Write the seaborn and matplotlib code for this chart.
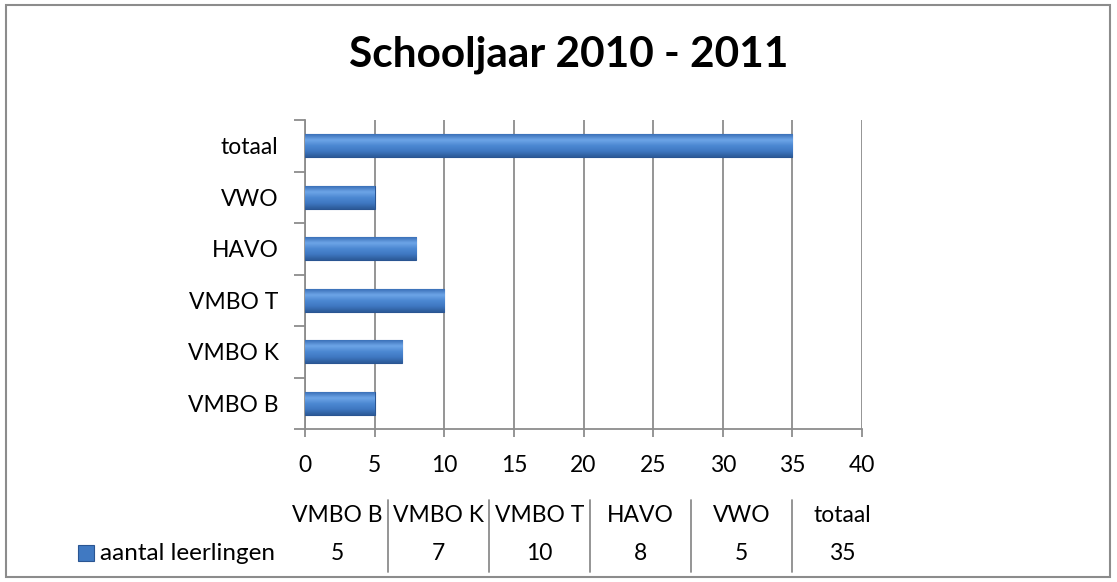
import numpy as np
import pandas as pd
import seaborn as sns
import matplotlib.pyplot as plt
from matplotlib.patches import Rectangle
from matplotlib.lines import Line2D
from matplotlib.colors import LinearSegmentedColormap

categories = ["VMBO B", "VMBO K", "VMBO T", "HAVO", "VWO", "totaal"]
values = [5, 7, 10, 8, 5, 35]
series_name = "aantal leerlingen"
title = "Schooljaar 2010 - 2011"

df = pd.DataFrame({"cat": categories, "n": values})

sns.set_style("white")
plt.rcParams["font.family"] = ["Lato", "DejaVu Sans"]
plt.rcParams["text.color"] = "black"
plt.rcParams["xtick.color"] = "black"
plt.rcParams["ytick.color"] = "black"

W, H = 1117, 582
fig = plt.figure(figsize=(W / 100, H / 100), dpi=100)
ax = fig.add_axes([305 / W, 1 - 429 / H, 557 / W, 309 / H])

grid_c = "#8c8c8c"
fs = 16.5
ax = sns.barplot(data=df, x="n", y="cat", order=categories[::-1], orient="h",
                 color="#4079C2", width=0.44, edgecolor="#2A5592", linewidth=0.8,
                 saturation=1, ax=ax, zorder=3)

# bevel-like shading on each bar
cmap = LinearSegmentedColormap.from_list("bev", ["#3A70B8", "#6EA6E8", "#4C88D2", "#3F78C2", "#2C5A98"])
grad = np.linspace(0, 1, 64).reshape(-1, 1)
for p in ax.patches:
    x0, y0 = p.get_x(), p.get_y()
    w, h = p.get_width(), p.get_height()
    im = ax.imshow(grad, cmap=cmap, aspect="auto", extent=(x0, x0 + w, y0 + h, y0),
                   zorder=3.5, interpolation="bicubic")
    im.set_clip_path(p)

ax.set_xlim(0, 40)
ax.set_ylim(5.5, -0.5)
ax.set_xticks(range(0, 41, 5))
ax.set_xlabel("")
ax.set_ylabel("")
ax.grid(axis="x", color=grid_c, linewidth=1.3, zorder=0)
ax.set_axisbelow(True)
for s in ["top", "right"]:
    ax.spines[s].set_visible(False)
for s in ["left", "bottom"]:
    ax.spines[s].set_color(grid_c)
    ax.spines[s].set_linewidth(1.3)

ax.set_yticks(np.arange(-0.5, 6, 1), minor=True)
ax.tick_params(axis="y", which="major", length=0, pad=19, labelsize=fs)
ax.tick_params(axis="y", which="minor", length=8, width=1.3, color=grid_c, direction="out", left=True)
ax.tick_params(axis="x", which="major", length=6, width=1.3, color=grid_c, direction="out",
               pad=13, labelsize=fs, bottom=True)

fig.text(569 / W, 1 - 55 / H, title, ha="center", va="center", fontsize=30.5, fontweight="bold")

# data table under the chart
col_w = 101
left = 287
y_head = 1 - 515 / H
y_val = 1 - 553 / H
for i, (c, v) in enumerate(zip(categories, values)):
    xc = (left + col_w * (i + 0.5)) / W
    fig.text(xc, y_head, c, ha="center", va="center", fontsize=fs)
    fig.text(xc, y_val, str(v), ha="center", va="center", fontsize=fs)
    if i > 0:
        xs = (left + col_w * i) / W
        fig.add_artist(Line2D([xs, xs], [1 - 500 / H, 1 - 572 / H], color=grid_c, linewidth=1.3))

fig.add_artist(Rectangle((78 / W, 1 - 561 / H), 16 / W, 16 / H, facecolor="#4079C2",
                         edgecolor="#2A5592", linewidth=0.8))
fig.text(100 / W, y_val, series_name, ha="left", va="center", fontsize=17.5)

fig.add_artist(Rectangle((6 / W, 5 / H), 1104 / W, 572 / H, fill=False,
                         edgecolor="#8c8c8c", linewidth=1.5))

fig.savefig("out.png", dpi=100)
